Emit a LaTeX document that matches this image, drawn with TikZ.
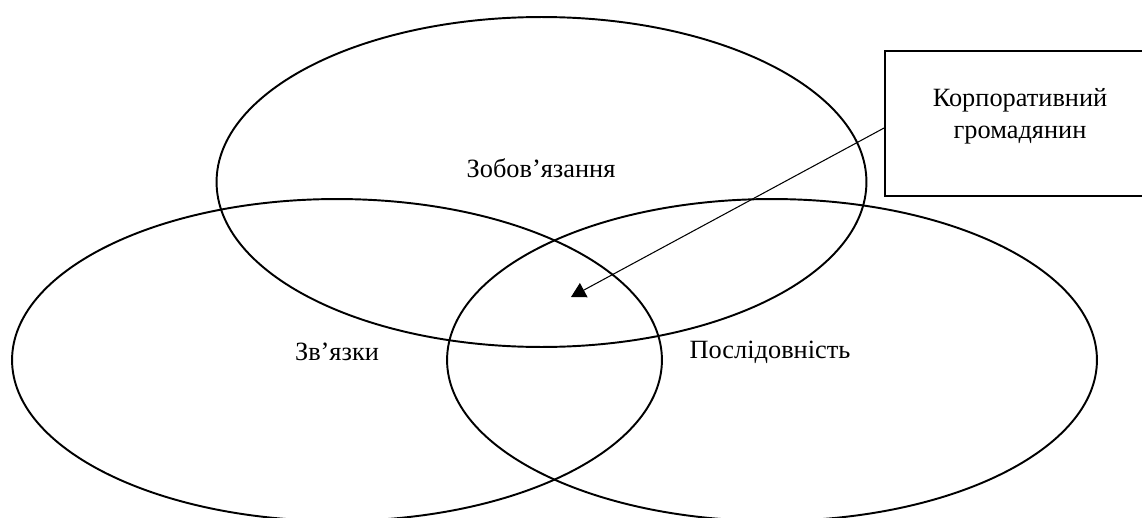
\documentclass[tikz,border=0pt]{standalone}
\usepackage{fontspec}
\setmainfont{Liberation Serif}
\usetikzlibrary{arrows.meta,positioning,shapes.geometric}
\definecolor{ink}{HTML}{000000}
\tikzset{
  >={Triangle[length=2.9mm,width=3.2mm]},
  every node/.style={font=\fontsize{15}{18}\selectfont,text=ink},
  ringbox/.style={ellipse,draw=ink,line width=1.1pt,minimum width=130mm,inner sep=0pt},
  citizenbox/.style={draw=ink,line width=1.1pt,minimum width=54mm,minimum height=29mm,inner sep=0pt},
  tag/.style={inner sep=1pt,align=center},
  pointer/.style={->,line width=0.6pt,draw=ink},
}

\begin{document}
\begin{tikzpicture}[x=0.02cm,y=-0.02cm]
\useasboundingbox (0,0) rectangle (1142,517);
\clip (0,0) rectangle (1142,517);

% three rings
\node[ringbox,minimum height=66mm] (duty) at (541.5,182) {};
\node[ringbox,minimum height=64.4mm] (links) at (337,360) {};
\node[ringbox,minimum height=64.4mm] (consist) at (772,360) {};

\node[tag] (dutytext) at (541,168) {Зобов’язання};
\node[tag] (linkstext) at (337,352) {Зв’язки};
\node[tag] (consisttext) at (770,352) {Послідовність};

% citizen box
\node[citizenbox] (corp) at (1020,123.5) {};
\node[tag] (corptext) at (1020,116) {Корпоративний\\громадянин};

\coordinate (tip) at (571,297);
\draw[pointer] ([yshift=-0.9mm]corp.west) -- (tip);

\end{tikzpicture}
\end{document}
